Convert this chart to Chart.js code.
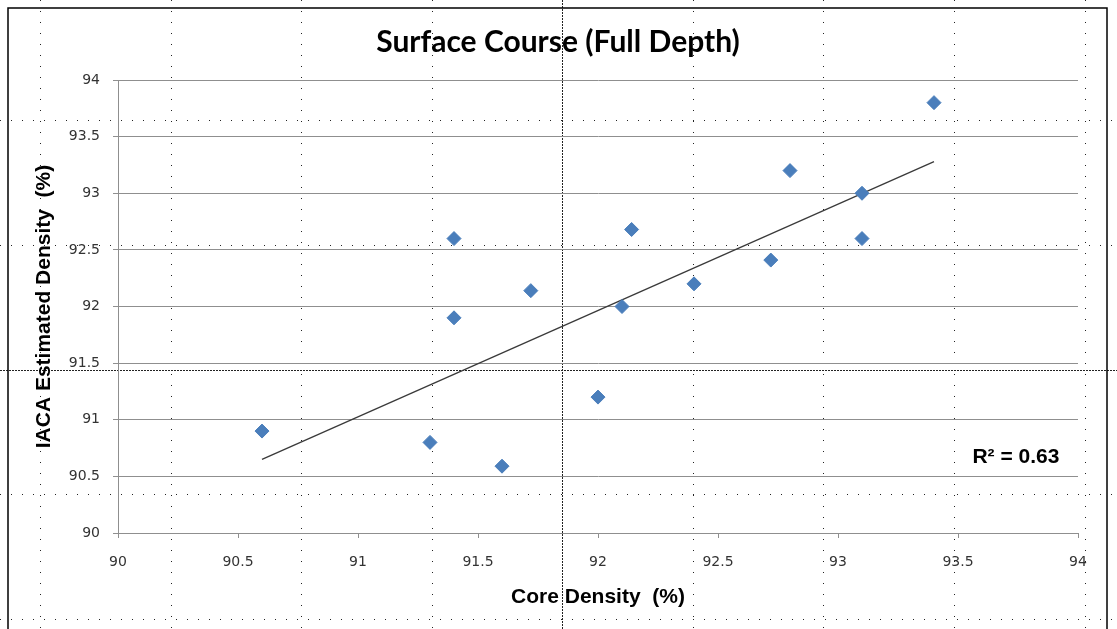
<!DOCTYPE html>
<html>
<head>
<meta charset="utf-8">
<script src="https://cdn.jsdelivr.net/npm/chart.js@4"></script>
<style>
  html, body { margin: 0; padding: 0; background: #fff; }
  #chart { display: block; }
</style>
</head>
<body>
<canvas id="chart" width="1117" height="629"></canvas>
<script>
// core density (x) vs IACA estimated density (y)
const coreDensity = [90.6, 91.3, 91.4, 91.4, 91.6, 91.72, 92.0, 92.1, 92.14, 92.4, 92.72, 92.8, 93.1, 93.1, 93.4];
const iacaDensity = [90.9, 90.8, 92.6, 91.9, 90.59, 92.14, 91.2, 92.0, 92.68, 92.2, 92.41, 93.2, 93.0, 92.6, 93.8];

// linear trend line endpoints as drawn
const trendX = [90.6, 93.4];
const trendY = [90.65, 93.28];

const axisTicks = [90, 90.5, 91, 91.5, 92, 92.5, 93, 93.5, 94];
const rSquaredLabel = 'R² = 0.63';

const points = coreDensity.map((x, i) => ({ x: x, y: iacaDensity[i] }));
const trend = trendX.map((x, i) => ({ x: x, y: trendY[i] }));

const gridGrey = '#8f8f8f';
const tickFont = { family: 'DejaVu Sans', size: 14 };
const boldFont = { family: 'Liberation Sans', size: 21, weight: 'bold' };

// white page, sheet cell dots and the chart frame behind the chart
const sheetBackground = {
  id: 'sheetBackground',
  beforeDraw(chart) {
    const ctx = chart.ctx;
    const w = chart.width, h = chart.height;
    ctx.save();
    ctx.fillStyle = '#fff';
    ctx.fillRect(0, 0, w, h);

    ctx.strokeStyle = '#222';
    ctx.lineWidth = 1;
    // ordinary cell borders
    ctx.setLineDash([1, 10]);
    [40, 171, 301, 432, 693, 823, 954, 1085].forEach(x => {
      ctx.beginPath(); ctx.moveTo(x + 0.5, 0); ctx.lineTo(x + 0.5, h); ctx.stroke();
    });
    [120, 245, 494, 619].forEach(y => {
      ctx.beginPath(); ctx.moveTo(0, y + 0.5); ctx.lineTo(w, y + 0.5); ctx.stroke();
    });
    // page break lines
    ctx.setLineDash([2, 1]);
    ctx.beginPath(); ctx.moveTo(562.5, 0); ctx.lineTo(562.5, h); ctx.stroke();
    ctx.beginPath(); ctx.moveTo(0, 370.5); ctx.lineTo(w, 370.5); ctx.stroke();

    // chart frame
    ctx.setLineDash([]);
    ctx.strokeStyle = '#000';
    ctx.lineWidth = 1.5;
    ctx.strokeRect(8, 8, 1099, 700);
    ctx.restore();
  }
};

const rSquaredText = {
  id: 'rSquaredText',
  afterDatasetsDraw(chart) {
    const ctx = chart.ctx;
    const x = chart.scales.x.getPixelForValue(93.56);
    const y = chart.scales.y.getPixelForValue(90.67);
    ctx.save();
    ctx.font = 'bold 21px "Liberation Sans", Arial, sans-serif';
    ctx.fillStyle = '#000';
    ctx.textAlign = 'left';
    ctx.textBaseline = 'middle';
    ctx.fillText(rSquaredLabel, x, y);
    ctx.restore();
  }
};

const chart = new Chart(document.getElementById('chart').getContext('2d'), {
  type: 'scatter',
  data: {
    datasets: [
      {
        label: 'IACA',
        data: points,
        pointStyle: 'rectRot',
        pointRadius: 7,
        pointHoverRadius: 7,
        backgroundColor: '#4a7ebb',
        borderColor: '#4a7ebb',
        borderWidth: 1,
      },
      {
        label: 'Linear',
        type: 'line',
        data: trend,
        borderColor: '#3a3a3a',
        borderWidth: 1.3,
        pointRadius: 0,
        fill: false,
      },
    ],
  },
  options: {
    responsive: false,
    animation: false,
    layout: { padding: { left: 38, right: 39, top: 0, bottom: 0 } },
    plugins: {
      legend: { display: false },
      tooltip: { enabled: false },
      title: {
        display: true,
        text: 'Surface Course (Full Depth)',
        color: '#000',
        font: { family: 'Lato', size: 30, weight: 'bold' },
        padding: { top: 24, bottom: 20 },
      },
    },
    scales: {
      x: {
        type: 'linear',
        min: 90,
        max: 94,
        afterBuildTicks: scale => { scale.ticks = axisTicks.map(v => ({ value: v })); },
        afterFit: scale => { scale.height = 96; },
        grid: { drawOnChartArea: false, drawTicks: true, tickLength: 5, tickColor: gridGrey },
        border: { display: true, color: gridGrey },
        ticks: { color: '#333', font: tickFont, padding: 16, maxRotation: 0, callback: v => String(v) },
        title: {
          display: true,
          text: 'Core Density  (%)',
          color: '#000',
          font: boldFont,
          padding: { top: 0, bottom: 19 },
        },
      },
      y: {
        type: 'linear',
        min: 90,
        max: 94,
        afterBuildTicks: scale => { scale.ticks = axisTicks.map(v => ({ value: v })); },
        afterFit: scale => { scale.width = 80; },
        grid: { color: gridGrey, drawTicks: true, tickLength: 5, tickColor: gridGrey },
        border: { display: true, color: gridGrey },
        ticks: { color: '#333', font: tickFont, padding: 13, callback: v => String(v) },
        title: {
          display: true,
          text: 'IACA Estimated Density  (%)',
          color: '#000',
          font: boldFont,
          padding: { top: -6, bottom: 0 },
        },
      },
    },
  },
  plugins: [sheetBackground, rSquaredText],
});
</script>
</body>
</html>
